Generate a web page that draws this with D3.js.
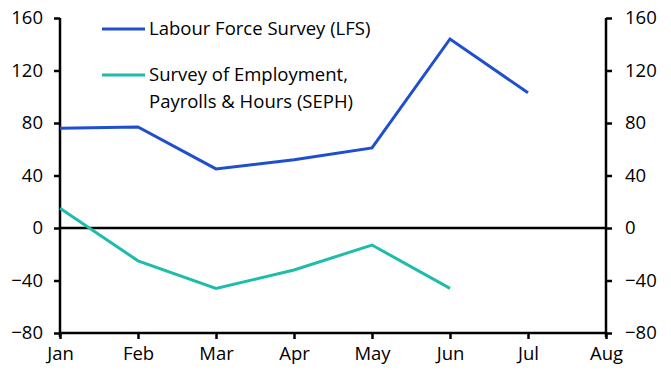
<!DOCTYPE html>
<html>
<head>
<meta charset="utf-8">
<script src="https://cdn.jsdelivr.net/npm/d3@7"></script>
<style>
  body { margin: 0; background: #fff; }
  svg { font-family: "Open Sans", sans-serif; }
</style>
</head>
<body>
<svg id="chart"></svg>
<script>
// months on the x axis
const months = ["Jan", "Feb", "Mar", "Apr", "May", "Jun", "Jul", "Aug"];
const yTicks = [-80, -40, 0, 40, 80, 120, 160];

// series values (thousands)
const lfsValues = [76, 77, 45, 52, 61, 144, 103];
const sephValues = [15, -25, -46, -32, -13, -46];

const seriesNames = ["Labour Force Survey (LFS)", "Survey of Employment,|Payrolls & Hours (SEPH)"];
const seriesColors = ["#1f4fcf", "#1fbcaa"];

const width = 671, height = 378;
const margin = { top: 18, right: 65, bottom: 45, left: 60 };
const fontSize = "18.5px";

const svg = d3.select("#chart").attr("width", width).attr("height", height);

const x = d3.scalePoint()
  .domain(months)
  .range([margin.left, width - margin.right]);

const y = d3.scaleLinear()
  .domain([-80, 160])
  .range([height - margin.bottom, margin.top]);

// zero line
svg.append("line")
  .attr("x1", x.range()[0]).attr("x2", x.range()[1])
  .attr("y1", y(0)).attr("y2", y(0))
  .attr("stroke", "#000").attr("stroke-width", 2.5);

// axes
const leftAxis = svg.append("g")
  .attr("transform", `translate(${margin.left},0)`)
  .call(d3.axisLeft(y).tickValues(yTicks).tickSize(6).tickPadding(11));

const rightAxis = svg.append("g")
  .attr("transform", `translate(${width - margin.right},0)`)
  .call(d3.axisRight(y).tickValues(yTicks).tickSize(6).tickPadding(13));

const bottomAxis = svg.append("g")
  .attr("transform", `translate(0,${y(-80)})`)
  .call(d3.axisBottom(x).tickSize(6).tickPadding(8));

[leftAxis, rightAxis, bottomAxis].forEach(g => {
  g.select(".domain").attr("stroke", "#000").attr("stroke-width", 2.5);
  g.selectAll(".tick line").attr("stroke", "#000").attr("stroke-width", 2.5);
  g.selectAll(".tick text")
    .attr("fill", "#000")
    .style("font-size", fontSize)
    .style("font-family", "'Open Sans', sans-serif");
});
leftAxis.select(".domain").attr("d", `M-0,${y(160)}V${y(-80) + 4}`);
rightAxis.select(".domain").attr("d", `M0,${y(160)}V${y(-80) + 4}`);
bottomAxis.select(".domain").attr("d", `M${x.range()[0]},0H${x.range()[1]}`);

// lines
const line = d3.line()
  .x((d, i) => x(months[i]))
  .y(d => y(d));

svg.append("path")
  .datum(lfsValues)
  .attr("fill", "none")
  .attr("stroke", seriesColors[0])
  .attr("stroke-width", 3)
  .attr("d", line);

svg.append("path")
  .datum(sephValues)
  .attr("fill", "none")
  .attr("stroke", seriesColors[1])
  .attr("stroke-width", 3)
  .attr("d", line);

// legend
const legendY = [29, 75];
seriesNames.forEach((name, i) => {
  const g = svg.append("g").attr("transform", `translate(102,${legendY[i]})`);
  g.append("line")
    .attr("x1", 0).attr("x2", 43)
    .attr("stroke", seriesColors[i]).attr("stroke-width", 3);
  name.split("|").forEach((t, j) => {
    g.append("text")
      .attr("x", 47)
      .attr("y", 6 + j * 27)
      .attr("fill", "#000")
      .style("font-size", fontSize)
      .text(t);
  });
});
</script>
</body>
</html>
